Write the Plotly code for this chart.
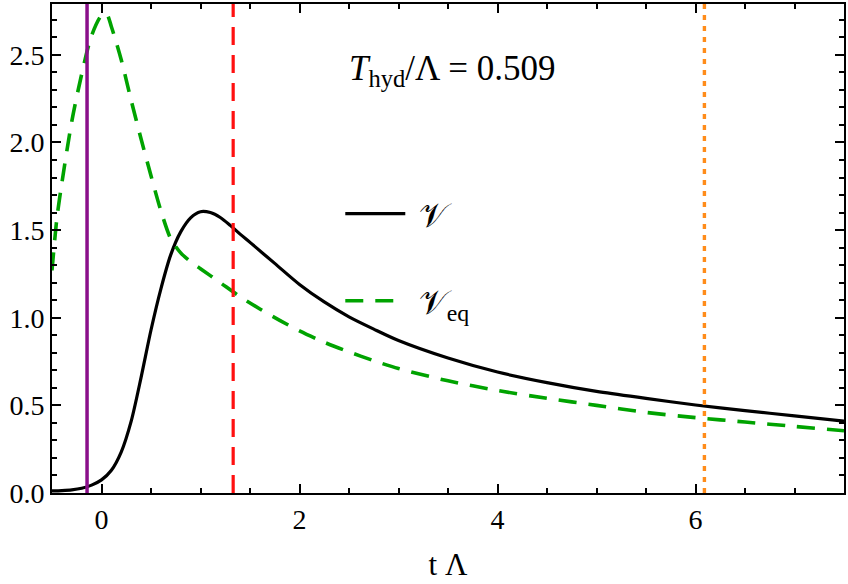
import plotly.graph_objects as go

# ---- data ----
t_v = [-0.5, -0.4, -0.3, -0.2, -0.1, 0.0, 0.1, 0.2, 0.3, 0.4, 0.5, 0.6, 0.7, 0.8, 0.9,
       1.0, 1.1, 1.2, 1.3, 1.4, 1.5, 1.75, 2.0, 2.25, 2.5, 2.75, 3.0, 3.5, 4.0, 4.5,
       5.0, 5.5, 6.0, 6.5, 7.0, 7.5]
v_vals = [0.012, 0.014, 0.018, 0.027, 0.045, 0.075, 0.13, 0.235, 0.41, 0.66, 0.93, 1.165, 1.36, 1.49, 1.57,
          1.605, 1.60, 1.572, 1.527, 1.477, 1.43, 1.31, 1.19, 1.09, 1.005, 0.935, 0.87, 0.77, 0.69, 0.63,
          0.58, 0.54, 0.502, 0.47, 0.44, 0.41]

t_eq = [-0.5, -0.45, -0.4, -0.3, -0.2, -0.1, 0.0, 0.05, 0.1, 0.2, 0.3, 0.4, 0.5, 0.6, 0.7,
        0.8, 0.9, 1.0, 1.2, 1.4, 1.6, 1.8, 2.0, 2.25, 2.5, 2.75, 3.0, 3.5, 4.0, 4.5,
        5.0, 5.5, 6.0, 6.5, 7.0, 7.5]
veq_vals = [1.27, 1.57, 1.77, 2.12, 2.39, 2.61, 2.725, 2.735, 2.66, 2.47, 2.24, 2.02, 1.81, 1.61, 1.45,
            1.37, 1.32, 1.28, 1.20, 1.12, 1.05, 0.985, 0.925, 0.86, 0.805, 0.755, 0.71, 0.64, 0.585, 0.54,
            0.50, 0.46, 0.43, 0.405, 0.38, 0.355]

t_start = -0.146   # purple solid line
t_mid = 1.33       # red dashed line
t_end = 6.09       # orange dotted line
ratio_label = "0.509"

FONT = "Liberation Serif"

fig = go.Figure()
fig.add_trace(go.Scatter(x=t_v, y=v_vals, mode="lines", name=" 𝒱",
                         line=dict(color="black", width=3.2, shape="spline", smoothing=0.8),
                         legendgroup="a"))
fig.add_trace(go.Scatter(x=t_eq, y=veq_vals, mode="lines", name=" 𝒱<sub>eq</sub>",
                         line=dict(color="#00a300", width=3.6, dash="18px,12px", shape="spline", smoothing=0.8),
                         legendgroup="b"))

fig.add_vline(x=t_start, line=dict(color="#8a0f8a", width=3.5))
fig.add_vline(x=t_mid, line=dict(color="#ff1010", width=3.2, dash="18px,10px"))
fig.add_vline(x=t_end, line=dict(color="#ff8c1a", width=3.4, dash="5px,6px"))

fig.add_annotation(x=0.505, y=0.912, xref="paper", yref="paper", showarrow=False,
                   text="<i>T</i><sub>hyd</sub>/Λ = " + ratio_label,
                   font=dict(family=FONT, size=35, color="black"))

axis_common = dict(showline=True, linecolor="black", linewidth=2, mirror="ticks",
                   ticks="inside", tickcolor="black", tickwidth=1.5, showgrid=False,
                   zeroline=False, tickfont=dict(family=FONT, size=28, color="black"))

fig.update_xaxes(range=[-0.5, 7.5], dtick=2, tick0=0, ticklen=9,
                 minor=dict(dtick=0.5, ticklen=5, tickwidth=1.5, tickcolor="black", ticks="inside"),
                 title=dict(text="t Λ", font=dict(family=FONT, size=31, color="black"), standoff=20),
                 **axis_common)
fig.update_yaxes(range=[0, 2.79], dtick=0.5, tick0=0, ticklen=9, tickformat=".1f",
                 minor=dict(dtick=0.1, ticklen=5, tickwidth=1.5, tickcolor="black", ticks="inside"),
                 **axis_common)

fig.update_layout(
    width=848, height=584,
    margin=dict(l=52, r=2, t=3, b=91),
    plot_bgcolor="white", paper_bgcolor="white",
    showlegend=True,
    legend=dict(x=0.364, y=0.63, xanchor="left", yanchor="top", bgcolor="rgba(0,0,0,0)",
                font=dict(family=FONT, size=34, color="black"), tracegroupgap=40,
                itemwidth=60),
)

fig.write_html("out.html")
